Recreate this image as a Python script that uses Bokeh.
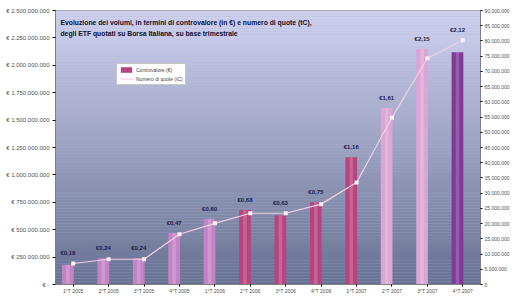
from bokeh.plotting import figure
from bokeh.models import (Range1d, LinearAxis, FixedTicker, Label, Legend,
                          LegendItem, ColumnDataSource)
from bokeh.embed import file_html
from bokeh.resources import INLINE

# ---------------- data ----------------
quarters = ["1°T 2005", "2°T 2005", "3°T 2005", "4°T 2005",
            "1°T 2006", "2°T 2006", "3°T 2006", "4°T 2006",
            "1°T 2007", "2°T 2007", "3°T 2007", "4°T 2007"]
controvalore = [0.18e9, 0.24e9, 0.24e9, 0.47e9, 0.60e9, 0.68e9,
                0.63e9, 0.75e9, 1.16e9, 1.61e9, 2.15e9, 2.12e9]
quote = [6.9e6, 8.3e6, 8.3e6, 16.5e6, 20.1e6, 23.4e6,
         23.4e6, 26.4e6, 33.5e6, 54.8e6, 74.3e6, 80.2e6]
left_ticks = list(range(0, 2_500_000_001, 250_000_000))
right_ticks = list(range(0, 90_000_001, 5_000_000))
title_lines = ["Evoluzione dei volumi, in termini di controvalore (in €) e numero di quote (tC),",
               "degli ETF quotati su Borsa Italiana, su base trimestrale"]

bar_colors = ["#c483c4", "#c483c4", "#c483c4", "#c483c4", "#c483c4",
              "#b8447f", "#b8447f", "#b8447f", "#b8447f",
              "#dba6d6", "#dba6d6", "#7e3a96"]

LEFT_MAX = left_ticks[-1]
RIGHT_MAX = right_ticks[-1]


def dots(n):
    return f"{n:,}".replace(",", ".")


p = figure(frame_width=425, frame_height=274, output_backend="svg",
           toolbar_location=None,
           x_range=Range1d(0, len(quarters)), y_range=Range1d(0, LEFT_MAX),
           min_border_left=55, min_border_right=10, min_border_top=10,
           min_border_bottom=4)
p.extra_y_ranges = {"right": Range1d(0, RIGHT_MAX)}
p.background_fill_color = "#a9aed0"
p.border_fill_color = "white"
p.outline_line_color = "#9a9aa8"
p.xgrid.visible = False
p.ygrid.visible = False

# gradient background built from the ranges
n_bands = 90
top_c = (208, 210, 240)
bot_c = (104, 114, 146)
b_bottom, b_top, b_col = [], [], []
for k in range(n_bands):
    f = k / (n_bands - 1)
    b_bottom.append(LEFT_MAX * k / n_bands)
    b_top.append(LEFT_MAX * (k + 1) / n_bands)
    c = tuple(int(bot_c[j] + (top_c[j] - bot_c[j]) * f) for j in range(3))
    b_col.append("#%02x%02x%02x" % c)
p.quad(left=0, right=len(quarters), bottom=b_bottom, top=b_top,
       fill_color=b_col, line_color=None, level="underlay")

idx = list(range(len(quarters)))
bar_x = [i + 0.5 - 0.15 for i in idx]
pt_x = [i + 0.5 for i in idx]

bsrc = ColumnDataSource(dict(x=bar_x, top=controvalore, color=bar_colors))
bars = p.vbar(x="x", top="top", width=0.33, source=bsrc,
              fill_color="color", line_color=None)
# light centre highlight (cylinder look)
p.vbar(x=bar_x, top=controvalore, width=0.10, fill_color="white",
       fill_alpha=0.18, line_color=None)

line = p.line(pt_x, quote, y_range_name="right", line_color="#f2cfe8",
              line_width=1.2)
p.scatter(pt_x, quote, y_range_name="right", marker="square", size=4,
          fill_color="#fbeef8", line_color=None)

# labels above bars
scale = LEFT_MAX / RIGHT_MAX
lab_y = [max(c, q * scale) for c, q in zip(controvalore, quote)]
lab_txt = [("€" + f"{c / 1e9:.2f}").replace(".", ",") for c in controvalore]
p.text(x=bar_x, y=lab_y, text=lab_txt, text_align="center",
       text_baseline="bottom", y_offset=-7, text_font_size="6px",
       text_font_style="bold", text_color="#1c1c48")

# title inside plot
for k, t in enumerate(title_lines):
    p.add_layout(Label(x=0.14, y=LEFT_MAX * (0.945 - 0.040 * k), text=t,
                       text_font_size="6.8px", text_font_style="bold",
                       text_color="#101030", text_baseline="bottom"))

# axes
p.xaxis.ticker = FixedTicker(ticks=pt_x)
p.xaxis.major_label_overrides = {x: q for x, q in zip(pt_x, quarters)}
p.xaxis.major_label_text_font_size = "5px"
p.xaxis.major_label_standoff = 1
p.xaxis.major_tick_out = 2
p.xaxis.major_tick_in = 0
p.xaxis.minor_tick_line_color = None
p.xaxis.axis_line_color = "#808080"
p.xaxis.major_label_text_color = "#505050"

p.yaxis.ticker = FixedTicker(ticks=left_ticks)
p.yaxis.major_label_overrides = {t: ("€ " + dots(t)) if t else "€ -"
                                 for t in left_ticks}
p.yaxis.major_label_text_font_size = "6px"
p.yaxis.major_label_standoff = 3
p.yaxis.major_tick_out = 3
p.yaxis.major_tick_in = 0
p.yaxis.minor_tick_line_color = None
p.yaxis.axis_line_color = "#808080"
p.yaxis.major_label_text_color = "#505050"

ra = LinearAxis(y_range_name="right", ticker=FixedTicker(ticks=right_ticks))
ra.major_label_overrides = {t: dots(t) for t in right_ticks}
ra.major_label_text_font_size = "5px"
ra.major_label_standoff = 2
ra.major_tick_out = 2
ra.major_tick_in = 0
ra.minor_tick_line_color = None
ra.axis_line_color = "#808080"
ra.major_label_text_color = "#505050"
p.add_layout(ra, "right")

legend = Legend(items=[LegendItem(label="Controvalore (€)", renderers=[bars], index=5),
                       LegendItem(label="Numero di quote (tC)", renderers=[line])],
                location=(61, 199), label_text_font_size="5px",
                glyph_height=7, glyph_width=14, label_height=7, spacing=2,
                padding=2, margin=0, label_standoff=3,
                background_fill_color="white", background_fill_alpha=1,
                border_line_color="#909090")
p.add_layout(legend, "center")

open("out.html", "w").write(file_html(p, INLINE))
